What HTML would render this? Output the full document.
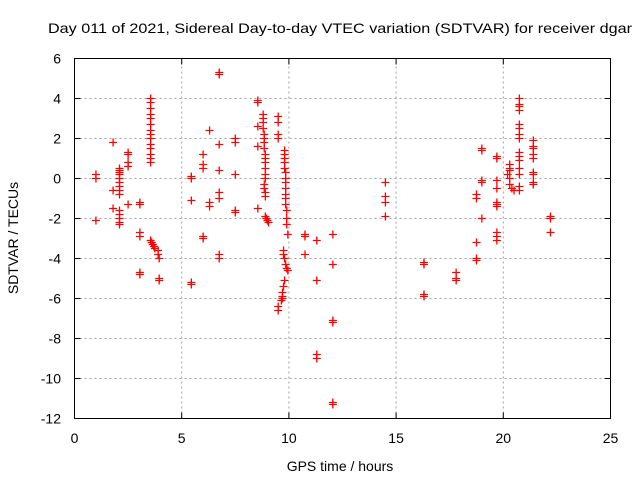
<!DOCTYPE html>
<html><head><meta charset="utf-8"><style>
html,body{margin:0;padding:0;background:#fff;}
svg{display:block;font-family:"Liberation Sans",sans-serif;}
</style></head><body>
<svg id="chart" width="640" height="480" viewBox="0 0 640 480" xmlns="http://www.w3.org/2000/svg">
<text x="340" y="33" text-anchor="middle" font-size="14" textLength="584" lengthAdjust="spacingAndGlyphs">Day 011 of 2021, Sidereal Day-to-day VTEC variation (SDTVAR) for receiver dgar</text>
<g id="grid"></g>
<g id="ticks"></g>
<g id="points"></g>
<rect x="74.5" y="58.5" width="536" height="360" fill="none" stroke="#000" stroke-width="1"/>
<text x="340" y="471" text-anchor="middle" font-size="14">GPS time / hours</text>
<text transform="translate(18,238) rotate(-90)" text-anchor="middle" font-size="14">SDTVAR / TECUs</text>
</svg>
<script>
const xTicks=[0,5,10,15,20,25];
const yTicks=[6,4,2,0,-2,-4,-6,-8,-10,-12];
const hours=[1.0,1.0,1.0,1.8,1.8,1.8,
2.1,2.1,2.1,2.1,2.1,2.1,2.1,2.1,2.1,2.1,2.1,2.1,2.1,2.1,
2.5,2.5,2.5,2.5,2.5,
3.05,3.05,3.05,3.05,3.05,3.05,
3.55,3.55,3.55,3.55,3.55,3.55,3.55,3.55,3.55,3.55,3.55,3.55,3.55,3.55,3.55,3.6,3.65,3.7,3.75,
3.9,3.9,3.95,3.95,3.95,
5.45,5.45,5.45,5.45,5.45,
6.0,6.0,6.0,6.0,6.0,
6.3,6.3,6.3,
6.75,6.75,6.75,6.75,6.75,6.75,6.75,6.75,
7.5,7.5,7.5,7.5,7.5,
8.55,8.55,8.55,8.55,8.55,
8.8,8.8,8.8,8.8,8.85,8.85,8.85,8.85,8.9,8.9,8.9,8.9,8.9,8.9,8.85,8.85,8.9,8.9,8.9,8.95,9.0,9.05,
9.5,9.5,9.5,9.5,
9.8,9.8,9.8,9.8,9.8,9.85,9.85,9.85,9.85,9.85,9.85,9.85,9.9,9.9,9.9,9.95,9.75,9.75,9.8,9.85,9.9,9.95,9.8,9.75,9.7,9.7,9.7,9.65,
9.5,9.5,
10.75,10.75,10.75,
11.3,11.3,11.3,11.3,
12.05,12.05,12.05,12.05,12.05,12.05,
14.5,14.5,14.5,14.5,
16.3,16.3,16.3,16.3,
17.8,17.8,17.8,
18.75,18.75,18.75,18.75,18.75,
19.0,19.0,19.0,19.0,19.0,
19.7,19.7,19.7,19.7,19.7,19.7,19.7,19.7,19.7,19.7,
20.3,20.3,20.3,20.2,20.3,20.3,20.4,20.5,
20.75,20.75,20.75,20.75,20.75,20.75,20.75,20.75,20.75,20.75,20.75,20.75,20.75,20.75,20.75,
21.4,21.4,21.4,21.4,21.4,21.4,21.4,21.4,21.4,
22.2,22.2,22.2];
const values=[0.2,0,-2.1,1.8,-0.6,-1.5,
0.5,0.4,0.3,0.2,0,-0.2,-0.4,-0.6,-0.8,-1.6,-1.8,-2.0,-2.2,-2.3,
1.3,1.2,0.8,0.6,-1.3,
-1.2,-1.3,-2.7,-2.9,-4.7,-4.8,
4.0,3.8,3.5,3.2,3.0,2.7,2.4,2.2,2.0,1.7,1.5,1.2,1.0,0.8,-3.1,-3.2,-3.3,-3.4,-3.5,
-3.6,-3.8,-4.0,-5.0,-5.1,
0.1,0,-1.1,-5.2,-5.3,
1.2,0.7,0.5,-2.9,-3.0,
2.4,-1.2,-1.4,
5.3,5.2,1.7,0.4,-0.7,-1.0,-3.8,-4.0,
2.0,1.8,0.2,-1.6,-1.7,
3.9,3.8,2.6,1.6,-1.5,
3.2,3.0,2.8,2.5,2.2,2.0,1.8,1.5,1.2,1.0,0.8,0.5,0.2,0,-0.3,-0.5,-0.7,-0.9,-1.9,-2.0,-2.1,-2.2,
3.1,2.8,2.2,2.0,
1.4,1.2,1.0,0.8,0.5,0.3,0,-0.2,-0.5,-0.8,-1.0,-1.3,-1.6,-2.0,-2.3,-2.8,-3.6,-3.8,-4.0,-4.3,-4.5,-4.6,-5.1,-5.4,-5.7,-5.9,-6.0,-6.1,
-6.4,-6.6,
-2.8,-2.9,-3.8,
-3.1,-5.1,-8.8,-9.0,
-2.8,-4.3,-7.1,-7.2,-11.2,-11.3,
-0.2,-0.9,-1.2,-1.9,
-4.2,-4.3,-5.8,-5.9,
-4.7,-5.0,-5.1,
-0.8,-1.0,-3.2,-4.0,-4.1,
1.5,1.4,-0.1,-0.2,-2.0,
1.1,1.0,-0.1,-0.5,-1.2,-1.3,-1.4,-2.7,-2.9,-3.1,
0.7,0.5,0.4,0.2,0,-0.3,-0.5,-0.6,
4.0,3.7,3.6,3.4,2.7,2.5,2.2,2.0,1.3,1.1,0.9,0.5,0.2,-0.4,-0.6,
1.9,1.6,1.5,1.2,1.0,0.3,0.2,-0.2,-0.3,
-1.9,-2.0,-2.7];
const X0=74.5,X1=610.5,Y0=418.5,Y1=58.5;
const xs=h=>X0+(h-0)/(25-0)*(X1-X0);
const ys=v=>Y0-(v-(-12))/(6-(-12))*(Y0-Y1);
const NS="http://www.w3.org/2000/svg";
const grid=document.getElementById('grid'),ticks=document.getElementById('ticks'),pts=document.getElementById('points');
function mk(tag,attrs,parent){const e=document.createElementNS(NS,tag);for(const k in attrs)e.setAttribute(k,attrs[k]);parent.appendChild(e);return e;}
xTicks.forEach(t=>{const x=xs(t);
 if(t>0&&t<25){const g=mk('line',{x1:x,x2:x,y1:Y0,y2:Y1,stroke:'#a0a0a0','stroke-dasharray':'2,3'},grid);
 
 }
 const tk=mk('path',{d:`M${x},${Y0}v-6M${x},${Y1}v6`,stroke:'#000'},ticks);
 
 
 const l=mk('text',{x:x,y:443,'text-anchor':'middle','font-size':'14'},ticks);l.textContent=t;
 
 });
yTicks.forEach(t=>{const y=ys(t);
 if(t>-12&&t<6){const g=mk('line',{x1:X0,x2:X1,y1:y,y2:y,stroke:'#a0a0a0','stroke-dasharray':'2,3'},grid);
 
 }
 const tk=mk('path',{d:`M${X0},${y}h6M${X1},${y}h-6`,stroke:'#000'},ticks);
 
 
 const l=mk('text',{x:61,y:y+5,'text-anchor':'end','font-size':'14'},ticks);l.textContent=t;
 
 });
hours.forEach((h,i)=>{const x=xs(h),y=ys(values[i]);
 const p=mk('path',{d:`M${x-4},${y}h8M${x},${y-4}v8`,stroke:'#ff0000','stroke-width':'1.3'},pts);
 
 });
</script>
</body></html>
